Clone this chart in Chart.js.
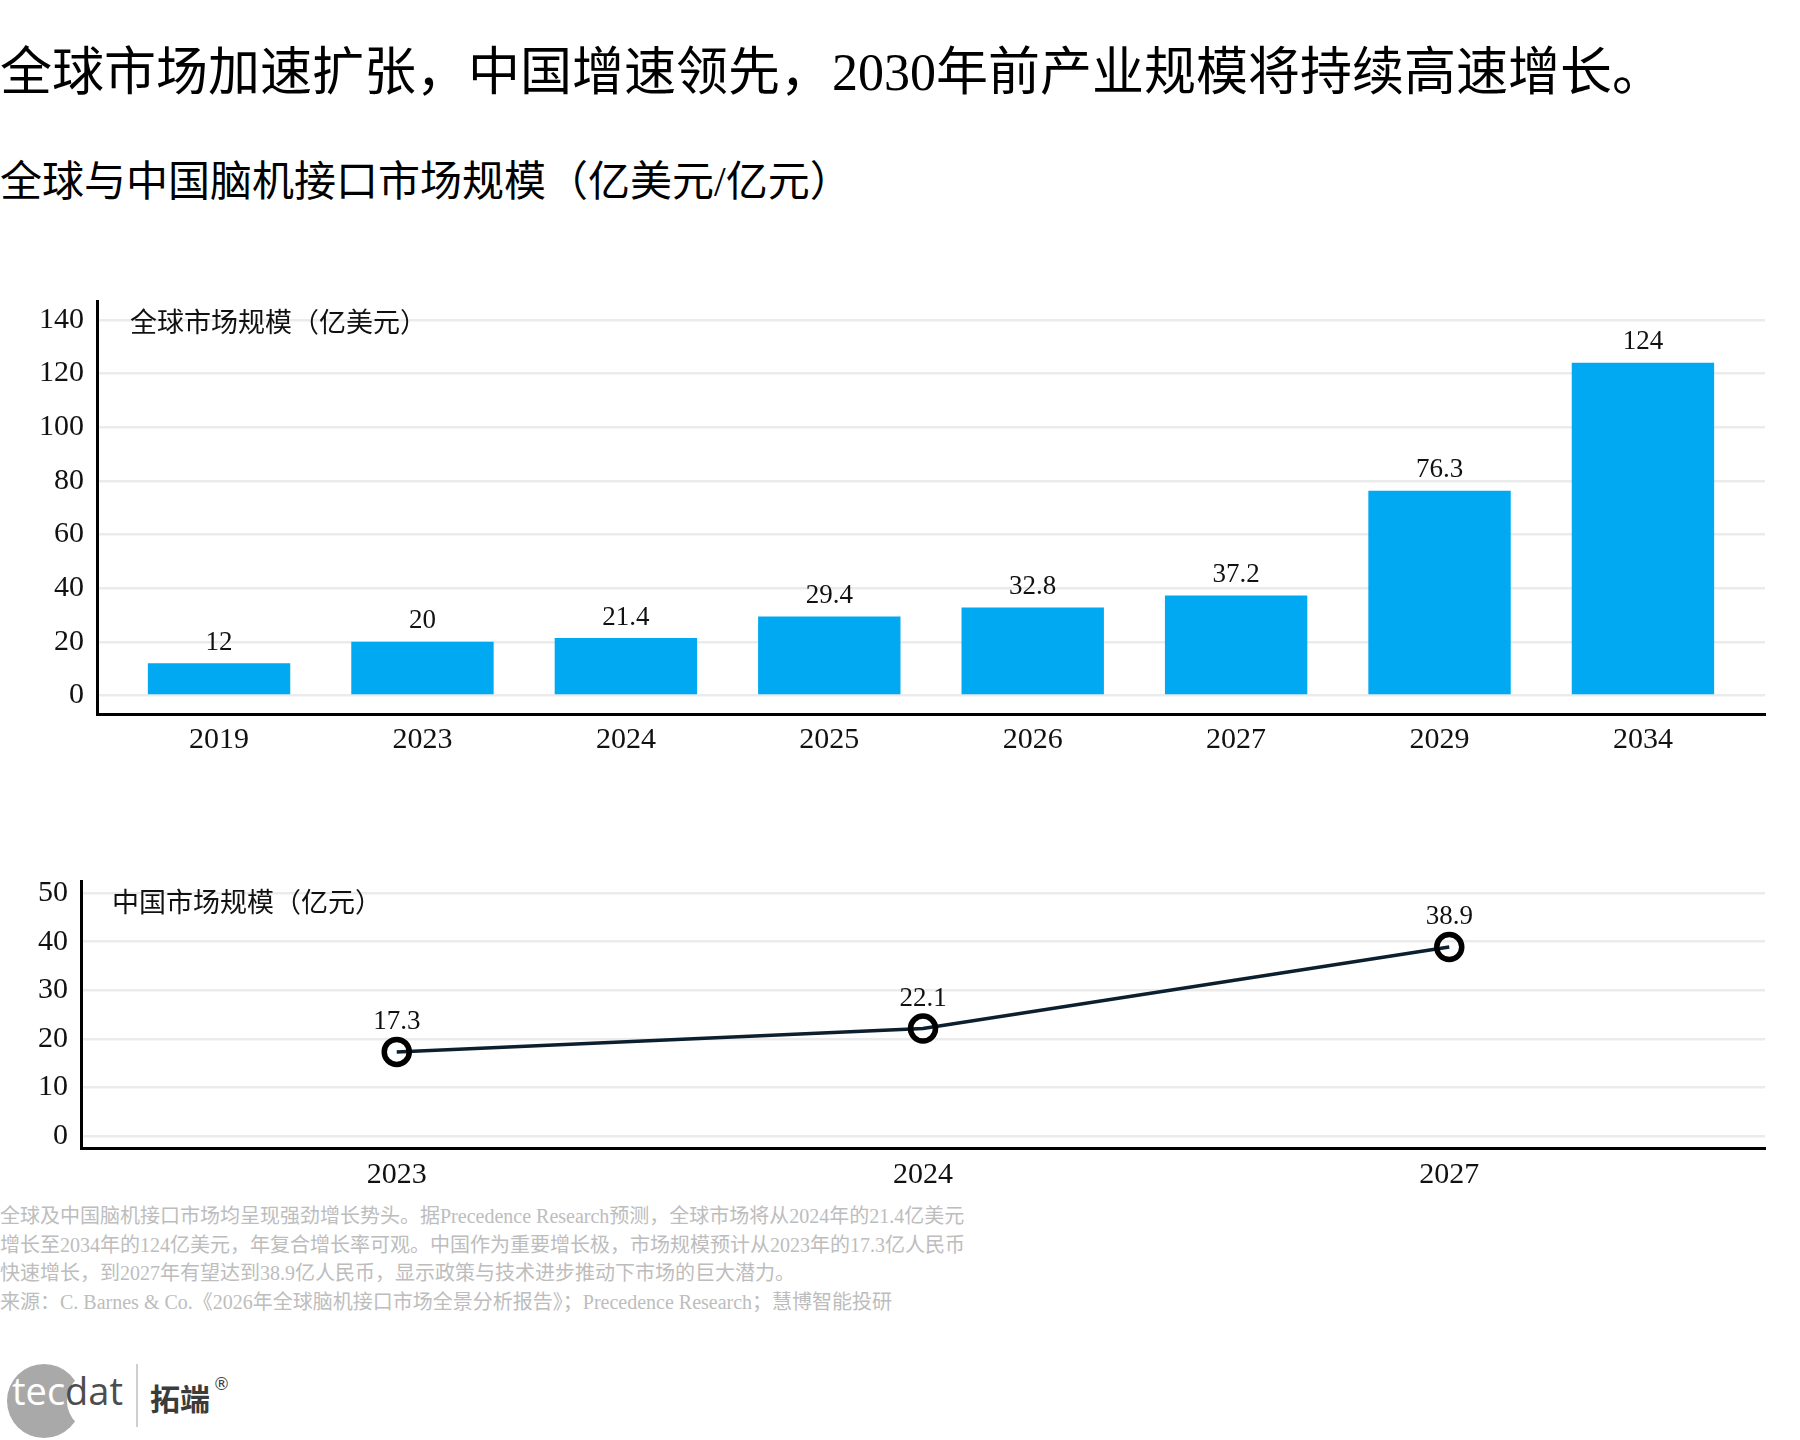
<!DOCTYPE html>
<html>
<head>
<meta charset="utf-8">
<script src="https://cdn.jsdelivr.net/npm/chart.js@4.4.1/dist/chart.umd.min.js"></script>
<style>
html,body{margin:0;padding:0;background:#fff;}
body{width:1800px;height:1440px;position:relative;overflow:hidden;font-family:'Liberation Serif','Noto Sans CJK SC',serif;color:#000;}
.abs{position:absolute;white-space:nowrap;}
#title{left:0;top:42px;font-size:52px;line-height:62px;}
#subtitle{left:0;top:157px;font-size:42px;line-height:50px;}
#topBox{left:0;top:270px;width:1800px;height:490px;}
#botBox{left:0;top:850px;width:1800px;height:350px;}
#note{left:0;top:1202px;font-size:20px;line-height:28.7px;color:#bdbdbd;}
#logoCirc{left:7px;top:1364px;width:74px;height:74px;border-radius:50%;background:#a9a9a9;}
#logoBite{left:67px;top:1371px;width:60px;height:60px;border-radius:50%;background:#fff;}
#logoText{left:12px;top:1371px;font-family:'Open Sans',sans-serif;font-size:38px;line-height:38px;color:#fff;}
#logoText span{color:#4d4d4d;}
#logoSep{left:136px;top:1364px;width:2px;height:63px;background:#cfcfcf;}
#logoCn{left:150px;top:1381px;font-family:'Noto Sans CJK SC',sans-serif;font-weight:bold;font-size:30px;line-height:32px;color:#3b3b3b;}
#logoReg{left:213px;top:1376px;font-family:'DejaVu Sans',sans-serif;font-size:17px;line-height:17px;color:#3b3b3b;}
</style>
</head>
<body>
<div id="title" class="abs">全球市场加速扩张，中国增速领先，2030年前产业规模将持续高速增长。</div>
<div id="subtitle" class="abs">全球与中国脑机接口市场规模（亿美元/亿元）</div>
<div id="topBox" class="abs"><canvas id="topChart"></canvas></div>
<div id="botBox" class="abs"><canvas id="botChart"></canvas></div>
<div id="note" class="abs">全球及中国脑机接口市场均呈现强劲增长势头。据Precedence Research预测，全球市场将从2024年的21.4亿美元<br>增长至2034年的124亿美元，年复合增长率可观。中国作为重要增长极，市场规模预计从2023年的17.3亿人民币<br>快速增长，到2027年有望达到38.9亿人民币，显示政策与技术进步推动下市场的巨大潜力。<br>来源：C. Barnes &amp; Co.《2026年全球脑机接口市场全景分析报告》；Precedence Research；慧博智能投研</div>
<div id="logoCirc" class="abs"></div>
<div id="logoBite" class="abs"></div>
<div id="logoText" class="abs">tec<span>dat</span></div>
<div id="logoSep" class="abs"></div>
<div id="logoCn" class="abs">拓端</div>
<div id="logoReg" class="abs">®</div>

<script>
// ---- data ----
const globalYears = ['2019','2023','2024','2025','2026','2027','2029','2034'];
const globalValues = [12, 20, 21.4, 29.4, 32.8, 37.2, 76.3, 124];
const globalYTicks = [0, 20, 40, 60, 80, 100, 120, 140];
const chinaYears = ['2023','2024','2027'];
const chinaValues = [17.3, 22.1, 38.9];
const chinaYTicks = [0, 10, 20, 30, 40, 50];
const globalPanelTitle = '全球市场规模（亿美元）';
const chinaPanelTitle = '中国市场规模（亿元）';

const FONT = "'Liberation Serif','Noto Sans CJK SC',serif";
const GRID = '#ebebeb';

const valueLabels = {
  id: 'valueLabels',
  afterDatasetsDraw(chart, args, opts) {
    const ctx = chart.ctx;
    const meta = chart.getDatasetMeta(0);
    ctx.save();
    ctx.font = opts.size + 'px ' + FONT;
    ctx.fillStyle = '#111';
    ctx.textAlign = 'center';
    ctx.textBaseline = 'middle';
    meta.data.forEach((el, i) => {
      ctx.fillText(String(opts.values[i]), el.x, el.y - opts.offset);
    });
    ctx.restore();
  }
};
const panelTitle = {
  id: 'panelTitle',
  afterDraw(chart, args, opts) {
    const ctx = chart.ctx, a = chart.chartArea;
    ctx.save();
    ctx.font = opts.size + 'px ' + FONT;
    ctx.fillStyle = '#111';
    ctx.textAlign = 'left';
    ctx.textBaseline = 'middle';
    ctx.fillText(opts.text, a.left + opts.dx, a.top + opts.dy);
    ctx.restore();
  }
};

function xScale(labels, h, pad) {
  return {
    type: 'linear',
    offset: false,
    min: -0.6,
    max: labels.length - 1 + 0.6,
    afterBuildTicks: s => { s.ticks = labels.map((_, i) => ({ value: i })); },
    afterFit: s => { s.height = h; },
    grid: { display: false, drawTicks: false, offset: false },
    border: { display: true, color: '#000', width: 3 },
    ticks: {
      autoSkip: false, maxRotation: 0, padding: pad,
      color: '#111', font: { family: FONT, size: 30 },
      callback: (v, i) => labels[i]
    }
  };
}
function yScale(ticks, min, max, w) {
  return {
    type: 'linear',
    min: min, max: max,
    afterBuildTicks: s => { s.ticks = ticks.map(v => ({ value: v })); },
    afterFit: s => { s.width = w; },
    grid: { color: GRID, lineWidth: 2.5, drawTicks: false },
    border: { display: true, color: '#000', width: 3 },
    ticks: { padding: 13, color: '#111', font: { family: FONT, size: 30 } }
  };
}

new Chart(document.getElementById('topChart'), {
  type: 'bar',
  data: {
    datasets: [{
      data: globalValues.map((v, i) => ({ x: i, y: v })),
      backgroundColor: '#00a9f1',
      borderWidth: 0,
      barPercentage: 0.7,
      categoryPercentage: 1.0
    }]
  },
  options: {
    responsive: true, maintainAspectRatio: false, animation: false,
    layout: { padding: { top: 26.7, right: 35, left: 0, bottom: 0 } },
    scales: {
      x: xScale(globalYears, 45.8, 7.8),
      y: yScale(globalYTicks, -7, 147, 97)
    },
    plugins: {
      legend: { display: false }, tooltip: { enabled: false },
      valueLabels: { values: globalValues, offset: 20.5, size: 27 },
      panelTitle: { text: globalPanelTitle, dx: 33, dy: 24, size: 27 }
    }
  },
  plugins: [valueLabels, panelTitle]
});

new Chart(document.getElementById('botChart'), {
  type: 'line',
  data: {
    datasets: [{
      data: chinaValues.map((v, i) => ({ x: i, y: v })),
      borderColor: '#0c1f2e',
      borderWidth: 3.5,
      tension: 0,
      pointRadius: 12.5,
      pointBorderWidth: 5.5,
      pointBorderColor: '#000',
      pointBackgroundColor: 'rgba(0,0,0,0)'
    }]
  },
  options: {
    responsive: true, maintainAspectRatio: false, animation: false,
    layout: { padding: { top: 23.4, right: 35, left: 0, bottom: 0 } },
    scales: {
      x: xScale(chinaYears, 52, 9.5),
      y: yScale(chinaYTicks, -2.5, 52.5, 81)
    },
    plugins: {
      legend: { display: false }, tooltip: { enabled: false },
      valueLabels: { values: chinaValues, offset: 30, size: 27 },
      panelTitle: { text: chinaPanelTitle, dx: 31, dy: 24, size: 27 }
    }
  },
  plugins: [valueLabels, panelTitle]
});
</script>
</body>
</html>
